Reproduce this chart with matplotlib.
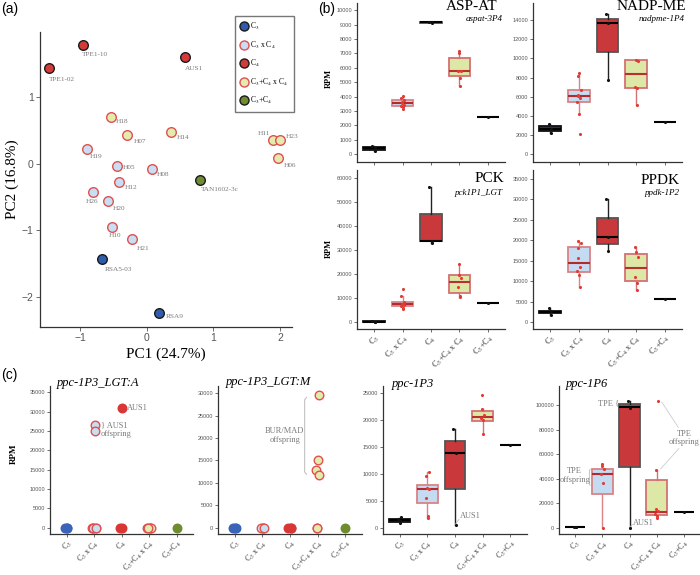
import numpy as np
import matplotlib
matplotlib.use("Agg")
import matplotlib.pyplot as plt
from matplotlib.lines import Line2D

plt.rcParams['font.family'] = ['Liberation Serif', 'DejaVu Serif']
plt.rcParams['mathtext.fontset'] = 'stix'

# ---------------- data ----------------
groups = [r'C$_3$', r'C$_3$ x C$_4$', r'C$_4$', r'C$_3$+C$_4$ x C$_4$', r'C$_3$+C$_4$']

# (a) PCA
pca_names = ['TPE1-02', 'TPE1-10', 'AUS1', 'H18', 'H07', 'H14', 'H19', 'H05', 'H08', 'H12',
             'H26', 'H20', 'H10', 'H21', 'RSA5-03', 'RSA9', 'TAN1602-3c', 'H11', 'H23', 'H06']
pc1 = [-1.46, -0.95, 0.58, -0.535, -0.29, 0.36, -0.90, -0.45, 0.08, -0.42,
       -0.81, -0.575, -0.525, -0.22, -0.665, 0.19, 0.80, 1.89, 2.00, 1.965]
pc2 = [1.44, 1.79, 1.60, 0.70, 0.43, 0.48, 0.23, -0.03, -0.08, -0.28,
       -0.43, -0.555, -0.955, -1.13, -1.43, -2.24, -0.24, 0.355, 0.355, 0.09]
pca_group = [2, 2, 2, 3, 3, 3, 1, 1, 1, 1, 1, 1, 1, 1, 0, 0, 4, 3, 3, 3]

# (b) box plots: points per group and (q1, median, q3, whisker low, whisker high)
aspat_pts = [[250, 420, 600], [3150, 3250, 3350, 3450, 3550, 3650, 3750, 3900, 4080],
             [9100, 9150, 9200], [4750, 5300, 5750, 5800, 7000, 7150], [2570]]
aspat_box = [(300, 420, 530, 250, 600), (3350, 3550, 3750, 3150, 4080),
             (9120, 9150, 9180, 9100, 9200), (5400, 5780, 6700, 4750, 7150), (2570, 2570, 2570, 2570, 2570)]

nadp_pts = [[2200, 2650, 3150], [2100, 4200, 5500, 5900, 6050, 6150, 6750, 8200, 8500],
            [7700, 13700, 14600], [5100, 6900, 7000, 9750, 9850], [3400]]
nadp_box = [(2450, 2650, 2900, 2200, 3150), (5450, 6100, 6750, 4200, 8500),
            (10700, 13650, 14150, 7700, 14600), (6900, 8350, 9800, 5100, 9850), (3400, 3400, 3400, 3400, 3400)]

pck_pts = [[50, 150, 300], [5300, 5700, 6600, 7000, 7400, 7700, 8500, 10800, 13800],
           [33000, 34000, 56500], [10500, 10900, 14700, 18200, 19800, 24300], [7800]]
pck_box = [(100, 150, 250, 50, 300), (6550, 7500, 8500, 5300, 10800),
           (33700, 33900, 45200, 33000, 56500), (12000, 16600, 19500, 10500, 24300), (7800, 7800, 7800, 7800, 7800)]

ppdk_pts = [[1800, 2600, 3300], [8600, 11400, 12400, 13400, 15600, 18000, 19200, 19700],
            [17300, 20700, 30000], [7700, 9500, 11000, 15800, 17000, 18300], [5600]]
ppdk_box = [(2300, 2550, 2800, 1800, 3300), (12100, 14500, 18200, 8600, 19700),
            (19000, 20700, 25300, 17300, 30000), (9900, 13300, 16700, 7700, 18300), (5600, 5600, 5600, 5600, 5600)]

# (c)
lgtA_pts = [[0, 0, 0], [26600, 25000, 0, 0, 0, 0, 0], [30900, 0, 0], [0, 0, 0, 0, 0], [0]]
lgtM_pts = [[0, 0, 0], [0, 0, 0, 0], [0, 0, 0], [29700, 15000, 12900, 11800, 0, 0], [0]]

p3_pts = [[800, 1200, 1500, 1900], [1850, 2150, 5450, 7200, 7350, 9500, 10350],
          [500, 13900, 18300], [17300, 19900, 20300, 20900, 22000, 24600], [15300]]
p3_box = [(1100, 1350, 1600, 800, 1900), (4520, 7200, 7900, 1850, 10350),
          (7200, 13900, 16100, 500, 18300), (19800, 20500, 21700, 17300, 22000), (15300, 15300, 15300, 15300, 15300)]

p6_pts = [[300, 500, 800], [0, 36800, 44000, 47600, 50600, 52000], [0, 97800, 103500],
          [8000, 9500, 11000, 13500, 14800, 47000, 103500], [13000]]
p6_box = [(300, 500, 800, 300, 800), (27300, 44100, 47500, 0, 52000),
          (49400, 98200, 100800, 0, 103500), (10200, 12800, 38800, 8000, 47000), (13000, 13000, 13000, 13000, 13000)]

# ---------------- styles ----------------
pca_face = ['#2F5DAA', '#C9DDF3', '#D23B38', '#E3EBAE', '#6F8C2E']
pca_edge = ['#1a1a1a', '#E0504F', '#1a1a1a', '#E0504F', '#1a1a1a']
dot_face = ['#3A64B9', '#C9DDF3', '#D93636', '#E3EBAE', '#6F8C2E']
dot_edge = ['#3A64B9', '#E0504F', '#D93636', '#E0504F', '#6F8C2E']
box_face = ['#1F3766', '#C5DBF1', '#C9383A', '#DDE7A6', '#FFFFFF']
box_edge = ['#111111', '#D98486', '#555555', '#D47173', '#111111']
box_med = ['#000000', '#B02A2E', '#000000', '#B83034', '#000000']
pt_col = ['#111111', '#E23A35', '#111111', '#E23A35', '#111111']
txt_gray = '#7a7a7a'
SANS = ['Liberation Sans', 'DejaVu Sans']

W, H = 700, 575
fig = plt.figure(figsize=(7, 5.75), dpi=100)


def add_ax(x0, y0, x1, y1):
    return fig.add_axes([x0 / W, 1 - y1 / H, (x1 - x0) / W, (y1 - y0) / H])


def ftext(x, y, s, **kw):
    fig.text(x / W, 1 - y / H, s, **kw)


def style_ax(ax, yfs):
    for sp in ['top', 'right']:
        ax.spines[sp].set_visible(False)
    for sp in ['left', 'bottom']:
        ax.spines[sp].set_color('#333333')
        ax.spines[sp].set_linewidth(0.9)
    ax.tick_params(length=2, width=0.6, color='#555555', pad=1.5)
    ax.tick_params(axis='x', pad=1)
    ax.tick_params(axis='y', labelsize=yfs, labelcolor='#555555')
    for lab in ax.get_yticklabels():
        lab.set_family(SANS)


def jitter(n, w=0.06):
    if n == 1:
        return np.zeros(1)
    return w * np.sin(np.arange(n) * 2.3 + 0.5)


def cat_axis(ax, fs):
    ax.set_xlim(0.4, 5.6)
    ax.set_xticks(range(1, 6))
    if fs:
        ax.set_xticklabels(groups, rotation=45, ha='right', va='top', rotation_mode='anchor',
                           fontsize=fs, color='#333333')
    else:
        ax.set_xticklabels([])


def box_panel(ax, pts, box, ymax, step, ylim, xfs):
    stats = []
    for q1, med, q3, lo, hi in box:
        stats.append(dict(q1=q1, med=med, q3=q3, whislo=lo, whishi=hi, fliers=[]))
    bp = ax.bxp(stats, positions=range(1, 6), widths=0.75, patch_artist=True,
                showcaps=False, showfliers=False)
    for i in range(5):
        bp['boxes'][i].set_facecolor(box_face[i])
        bp['boxes'][i].set_edgecolor(box_edge[i])
        bp['boxes'][i].set_linewidth(1.3)
        bp['medians'][i].set_color(box_med[i])
        bp['medians'][i].set_linewidth(1.5)
        for wk in bp['whiskers'][2 * i:2 * i + 2]:
            wk.set_color(box_edge[i] if i in (1, 3) else '#222222')
            wk.set_linewidth(1.0)
    for i, vals in enumerate(pts):
        ax.scatter(i + 1 + jitter(len(vals)), vals, s=5, color=pt_col[i], zorder=4, linewidths=0)
    ax.set_ylim(*ylim)
    ax.set_yticks(range(0, ymax + 1, step))
    ax.set_yticklabels([str(v) for v in range(0, ymax + 1, step)])
    cat_axis(ax, xfs)
    style_ax(ax, 4)


def dot_panel(ax, pts, ymax, step, ylim):
    for i, vals in enumerate(pts):
        ax.scatter(i + 1 + jitter(len(vals), 0.07), vals, s=38, facecolor=dot_face[i],
                   edgecolor=dot_edge[i], linewidths=1.0, zorder=3, clip_on=False)
    ax.set_ylim(*ylim)
    ax.set_yticks(range(0, ymax + 1, step))
    ax.set_yticklabels([str(v) for v in range(0, ymax + 1, step)])
    cat_axis(ax, 5.7)
    style_ax(ax, 4)


# ---------------- (a) PCA ----------------
axa = add_ax(40, 32, 292, 327)
for i in range(len(pc1)):
    g = pca_group[i]
    axa.scatter(pc1[i], pc2[i], s=48, facecolor=pca_face[g], edgecolor=pca_edge[g],
                linewidths=1.0, zorder=3)
label_off = [(0, -12), (-1, -10), (0, -11), (5, -4), (6, -6), (6, -6), (3, -8), (6, -2), (5, -5), (6, -5),
             (-7, -9), (4, -8), (-3, -8), (5, -9), (2, -10), (6, -3), (1, -10), (-3, 7), (6, 4), (6, -8)]
for i, name in enumerate(pca_names):
    dx, dy = label_off[i]
    axa.annotate(name, (pc1[i], pc2[i]), xytext=(dx, dy), textcoords='offset pixels',
                 ha='right' if name == 'H11' else 'left', va='center', fontsize=5.2, color=txt_gray)
axa.set_xlim(-1.6, 2.18)
axa.set_ylim(-2.45, 1.98)
axa.set_xticks([-1, 0, 1, 2])
axa.set_yticks([-2, -1, 0, 1])
style_ax(axa, 7.5)
axa.tick_params(length=3)
axa.tick_params(axis='x', labelsize=7.5, labelcolor='#555555', pad=1.5)
for lab in axa.get_xticklabels():
    lab.set_family(SANS)
axa.set_xlabel('PC1 (24.7%)', fontsize=11, labelpad=3)
axa.set_ylabel('PC2 (16.8%)', fontsize=11, labelpad=2)

handles = [Line2D([], [], marker='o', linestyle='', markersize=6.5, markerfacecolor=pca_face[i],
                  markeredgecolor=pca_edge[i], markeredgewidth=1.0) for i in range(5)]
leg = fig.legend(handles, groups, loc='upper left', bbox_to_anchor=(231 / W, 1 - 12 / H),
                 fontsize=5.5, frameon=True, fancybox=False, edgecolor='#555555',
                 handlelength=1.0, handletextpad=0.3, labelspacing=0.95, borderpad=0.7)
leg.get_frame().set_linewidth(1.0)

# ---------------- (b) ----------------
b1 = add_ax(357, 3, 505, 162)
box_panel(b1, aspat_pts, aspat_box, 10000, 1000, (-535, 10500), None)
b2 = add_ax(533, 3, 682, 162)
box_panel(b2, nadp_pts, nadp_box, 14000, 2000, (-800, 15770), None)
b3 = add_ax(357, 170, 505, 329)
box_panel(b3, pck_pts, pck_box, 60000, 10000, (-2920, 63470), 6)
b4 = add_ax(533, 170, 682, 329)
box_panel(b4, ppdk_pts, ppdk_box, 35000, 5000, (-1710, 37120), 6)

ftext(497, 7, 'ASP-AT', fontsize=11, ha='right', va='center')
ftext(503, 19, 'aspat-3P4', fontsize=6.5, style='italic', ha='right', va='center')
ftext(686, 7, 'NADP-ME', fontsize=11, ha='right', va='center')
ftext(685, 19, 'nadpme-1P4', fontsize=6.5, style='italic', ha='right', va='center')
ftext(504, 179, 'PCK', fontsize=11, ha='right', va='center')
ftext(503, 193, 'pck1P1_LGT', fontsize=6.5, style='italic', ha='right', va='center')
ftext(680, 180, 'PPDK', fontsize=11, ha='right', va='center')
ftext(680, 193, 'ppdk-1P2', fontsize=6.5, style='italic', ha='right', va='center')
ftext(329, 78, 'RPM', fontsize=6, weight='bold', rotation=90, ha='center', va='center')
ftext(329, 248, 'RPM', fontsize=6, weight='bold', rotation=90, ha='center', va='center')

# ---------------- (c) ----------------
c1 = add_ax(50, 386, 193, 534)
dot_panel(c1, lgtA_pts, 35000, 5000, (-1670, 36670))
c2 = add_ax(218, 386, 362, 534)
dot_panel(c2, lgtM_pts, 30000, 5000, (-1440, 31660))
c3 = add_ax(383, 386, 527, 534)
box_panel(c3, p3_pts, p3_box, 25000, 5000, (-1200, 26250), 5.7)
c4 = add_ax(559, 386, 700, 534)
box_panel(c4, p6_pts, p6_box, 100000, 20000, (-5280, 115750), 5.7)

ftext(57, 383, 'ppc-1P3_LGT:A', fontsize=9, style='italic', ha='left', va='center')
ftext(226, 382, 'ppc-1P3_LGT:M', fontsize=9, style='italic', ha='left', va='center')
ftext(392, 384, 'ppc-1P3', fontsize=9, style='italic', ha='left', va='center')
ftext(566, 384, 'ppc-1P6', fontsize=9, style='italic', ha='left', va='center')
ftext(14, 454, 'RPM', fontsize=6.5, weight='bold', rotation=90, ha='center', va='center')

ann = dict(fontsize=6, color=txt_gray)
c1.text(3.2, 30900, 'AUS1', ha='left', va='center', **ann)
c1.text(2.25, 25300, '} AUS1\noffspring', ha='left', va='center', linespacing=1.1, **ann)
c2.text(2.81, 20530, 'BUR/MAD\noffspring', ha='center', va='center', linespacing=1.1, **ann)
c2.plot([3.6, 3.53, 3.53, 3.6], [29140, 28600, 12400, 11910], color='#bbbbbb', lw=0.7)
c3.text(3.17, 2100, 'AUS1', ha='left', va='center', **ann)
c3.plot([3.0, 3.14], [500, 1500], color='#bbbbbb', lw=0.6)
c4.text(2.62, 101300, 'TPE {', ha='right', va='center', **ann)
c4.text(0.98, 42500, 'TPE\noffspring', ha='center', va='center', linespacing=1.1, **ann)
c4.plot([1.55, 1.52, 1.52, 1.55], [47500, 47000, 35000, 34600], color='#bbbbbb', lw=0.6)
c4.text(5.02, 73200, 'TPE\noffspring', ha='center', va='center', linespacing=1.1,
        clip_on=False, **ann)
c4.plot([4.19, 4.8], [102600, 81900], color='#cccccc', lw=0.6)
c4.plot([4.15, 4.82], [48000, 64600], color='#cccccc', lw=0.6)
c4.text(3.12, 3700, 'AUS1', ha='left', va='center', **ann)
c4.plot([3.0, 3.1], [0, 2500], color='#bbbbbb', lw=0.6)

# panel letters
ftext(1, 9, '(a)', fontsize=10, family=SANS, ha='left', va='center')
ftext(318, 9, '(b)', fontsize=10, family=SANS, ha='left', va='center')
ftext(1, 375, '(c)', fontsize=10, family=SANS, ha='left', va='center')

fig.savefig('out.png', dpi=100)
